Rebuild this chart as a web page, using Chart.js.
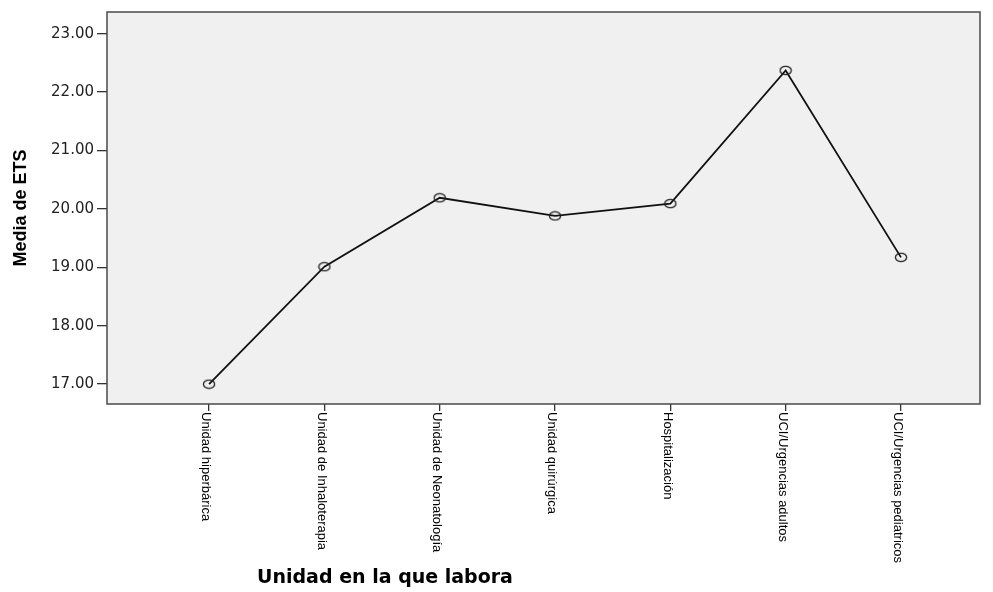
<!DOCTYPE html>
<html>
<head>
<meta charset="utf-8">
<script src="https://cdn.jsdelivr.net/npm/chart.js@4"></script>
<style>
  html, body { margin: 0; padding: 0; background: #fff; }
  #wrap { width: 993px; height: 592px; }
</style>
</head>
<body>
<div id="wrap"><canvas id="chart" width="993" height="592"></canvas></div>
<script>
const categories = ['Unidad hiperbárica', 'Unidad de Inhaloterapia', 'Unidad de Neonatología',
  'Unidad quirúrgica', 'Hospitalización', 'UCI/Urgencias adultos', 'UCI/Urgencias pediatricos'];
const meanETS = [17.00, 19.01, 20.19, 19.88, 20.09, 22.37, 19.17];
const yTicks = [17, 18, 19, 20, 21, 22, 23];

// hollow, slightly wide circle marker
const marker = document.createElement('canvas');
marker.width = 14; marker.height = 11;
{
  const m = marker.getContext('2d');
  m.strokeStyle = '#222';
  m.lineWidth = 1.3;
  m.beginPath();
  m.ellipse(7, 5.5, 5.6, 4.2, 0, 0, Math.PI * 2);
  m.stroke();
}

const frame = {
  id: 'frame',
  beforeDatasetsDraw(chart) {
    const { ctx, chartArea: a } = chart;
    ctx.save();
    ctx.fillStyle = '#f0f0f0';
    ctx.fillRect(a.left, a.top, a.right - a.left, a.bottom - a.top);
    ctx.strokeStyle = '#4a4a4a';
    ctx.lineWidth = 1.5;
    ctx.strokeRect(a.left, a.top, a.right - a.left, a.bottom - a.top);
    ctx.restore();
  },
  afterDraw(chart) {
    const { ctx, chartArea: a } = chart;
    const xs = chart.scales.x;
    ctx.save();
    ctx.fillStyle = '#000';
    ctx.font = '13px "Liberation Sans", Arial, sans-serif';
    ctx.textAlign = 'left';
    ctx.textBaseline = 'middle';
    categories.forEach((c, i) => {
      ctx.save();
      ctx.translate(xs.getPixelForValue(i) - 3, a.bottom + 8);
      ctx.rotate(Math.PI / 2);
      ctx.fillText(c, 0, 0);
      ctx.restore();
    });
    ctx.font = 'bold 19px "DejaVu Sans", sans-serif';
    ctx.textAlign = 'center';
    ctx.fillText('Unidad en la que labora', 385, 578);
    ctx.restore();
  }
};

new Chart(document.getElementById('chart').getContext('2d'), {
  type: 'line',
  data: {
    datasets: [{
      data: meanETS.map((v, i) => ({ x: i, y: v })),
      borderColor: '#111',
      borderWidth: 1.8,
      pointStyle: marker,
      pointRadius: 5,
      fill: false,
      tension: 0,
    }],
  },
  options: {
    responsive: false,
    animation: false,
    layout: { padding: { top: 10, right: 13, left: 0, bottom: 0 } },
    plugins: { legend: { display: false }, tooltip: { enabled: false } },
    scales: {
      x: {
        type: 'linear',
        min: -0.885,
        max: 6.685,
        afterBuildTicks: s => { s.ticks = categories.map((c, i) => ({ value: i })); },
        afterFit: s => { s.height = 188; },
        grid: { drawOnChartArea: false, drawTicks: true, tickLength: 7, color: '#333', lineWidth: 1.3 },
        border: { display: false },
        ticks: { callback: () => '', padding: 0 },
      },
      y: {
        min: 16.66,
        max: 23.37,
        afterBuildTicks: s => { s.ticks = yTicks.map(v => ({ value: v })); },
        afterFit: s => { s.width = 107; },
        grid: { drawOnChartArea: false, drawTicks: true, tickLength: 10, color: '#333', lineWidth: 1.3 },
        border: { display: false },
        ticks: {
          color: '#222',
          padding: 3,
          font: { family: '"DejaVu Sans", sans-serif', size: 15 },
          callback: v => v.toFixed(2),
        },
        title: {
          display: true,
          text: 'Media de ETS',
          color: '#000',
          font: { family: '"Liberation Sans", Arial, sans-serif', size: 18, weight: 'bold' },
          padding: { top: 10, bottom: 0 },
        },
      },
    },
  },
  plugins: [frame],
});
</script>
</body>
</html>
